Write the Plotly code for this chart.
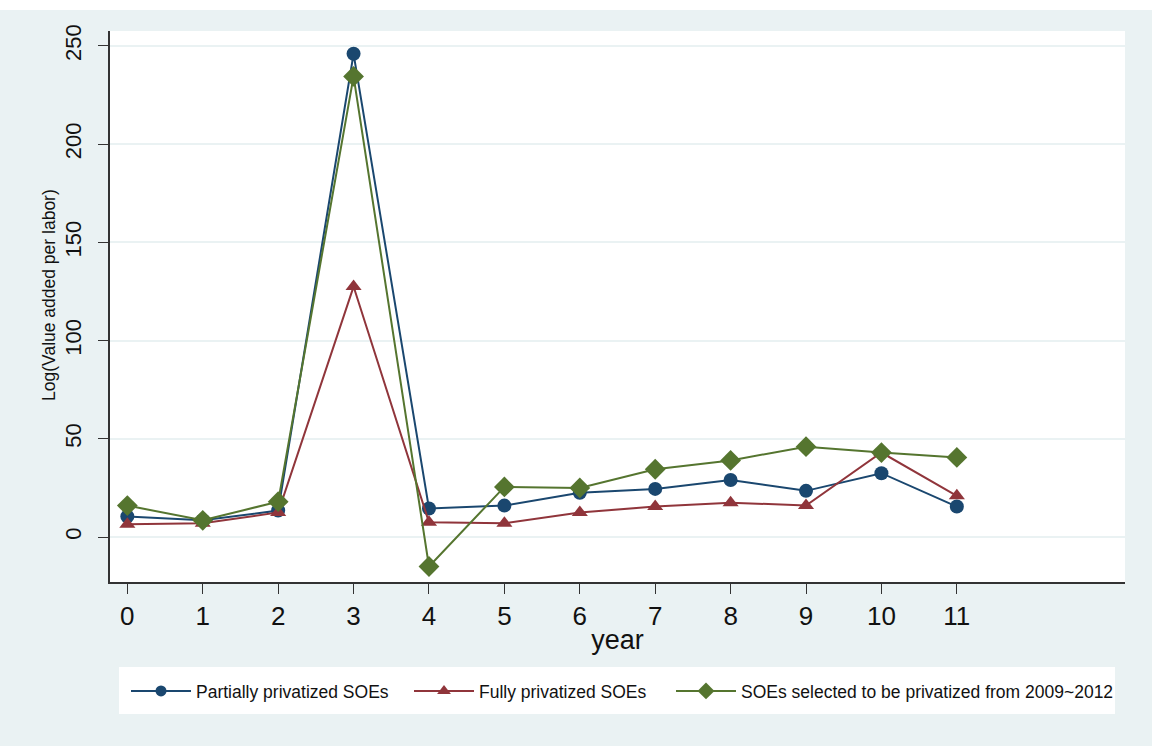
import plotly.graph_objects as go

# Years relative to privatization
years = list(range(12))
tick_vals = [0, 50, 100, 150, 200, 250]

# Log(value added per labor) by group
partially = [10.5, 8.5, 13.5, 246, 14.5, 16, 22.5, 24.5, 29, 23.5, 32.5, 15.5]
fully = [6.5, 7.0, 12.5, 127.5, 7.5, 7.0, 12.5, 15.5, 17.5, 16.0, 43.0, 21.0]
selected = [16.0, 8.5, 18.0, 234.5, -15.0, 25.5, 25.0, 34.5, 39.0, 46.0, 43.0, 40.5]

series_names = [
    "Partially privatized SOEs",
    "Fully privatized SOEs",
    "SOEs selected to be privatized from 2009~2012",
]

FONT = "Arial, Liberation Sans, sans-serif"
BG = "#eaf2f3"

fig = go.Figure()
# (values, colour, symbol, plot marker size, legend marker size, legend entry width)
styles = [
    (partially, "#1a476f", "circle", 14, 11, 208),
    (fully, "#90353b", "triangle-up", 14, 12, 187),
    (selected, "#55752f", "diamond", 16, 13, 380),
]
for (vals, col, sym, sz, _, _), name in zip(styles, series_names):
    fig.add_trace(go.Scatter(
        x=years, y=vals, name=name, mode="lines+markers", showlegend=False,
        line=dict(color=col, width=2),
        marker=dict(symbol=sym, size=sz, color=col, line=dict(width=0)),
    ))
# legend keys use smaller symbols than the plotted markers
for (_, col, sym, _, lsz, lw), name in zip(styles, series_names):
    fig.add_trace(go.Scatter(
        x=[None], y=[None], name=name, mode="lines+markers", showlegend=True,
        line=dict(color=col, width=2), legendwidth=lw,
        marker=dict(symbol=sym, size=lsz, color=col, line=dict(width=0)),
    ))

# white legend panel and the white band along the top edge
fig.add_shape(type="rect", xref="paper", yref="paper",
              x0=(119 - 110) / 1015, x1=(1115 - 110) / 1015,
              y0=-(714 - 582) / 551, y1=-(667 - 582) / 551,
              fillcolor="white", line=dict(width=0), layer="below")
fig.add_shape(type="rect", xref="paper", yref="paper",
              x0=-110 / 1015, x1=1 + 27 / 1015,
              y0=1 + 21 / 551, y1=1 + 31 / 551,
              fillcolor="white", line=dict(width=0), layer="below")

# y-axis title
fig.add_annotation(
    text="Log(Value added per labor)", textangle=-90,
    xref="paper", yref="paper", x=(49 - 110) / 1015, y=(582 - 295) / 551,
    xanchor="center", yanchor="middle", showarrow=False,
    font=dict(size=17.5, family=FONT, color="#111111"),
)

fig.update_layout(
    width=1152, height=746,
    margin=dict(l=110, r=27, t=31, b=164),
    paper_bgcolor=BG, plot_bgcolor="white",
    font=dict(family=FONT, color="#111111"),
    showlegend=True,
    legend=dict(
        orientation="h", x=(126 - 110) / 1015, xanchor="left",
        y=-(691 - 582) / 551, yanchor="middle",
        bgcolor="rgba(0,0,0,0)", font=dict(size=17.5, family=FONT),
        itemwidth=60, tracegroupgap=0,
    ),
    xaxis=dict(
        range=[-0.23, 13.23], tickmode="array", tickvals=years,
        ticks="outside", ticklen=10, tickcolor="#333333", tickwidth=1,
        showline=True, linecolor="#333333", linewidth=1.5,
        showgrid=False, zeroline=False,
        tickfont=dict(size=26, family=FONT),
        title=dict(text="year", font=dict(size=27, family=FONT), standoff=0),
    ),
    yaxis=dict(
        range=[-22.9, 257.6], tickmode="array", tickvals=tick_vals,
        ticks="outside", ticklen=10, tickcolor="#333333", tickwidth=1,
        showline=True, linecolor="#333333", linewidth=1.5,
        showgrid=True, gridcolor=BG, gridwidth=2, zeroline=False,
        tickangle=-90, tickfont=dict(size=22, family=FONT),
        ticklabelstandoff=8,
    ),
)

fig.write_html("out.html")
